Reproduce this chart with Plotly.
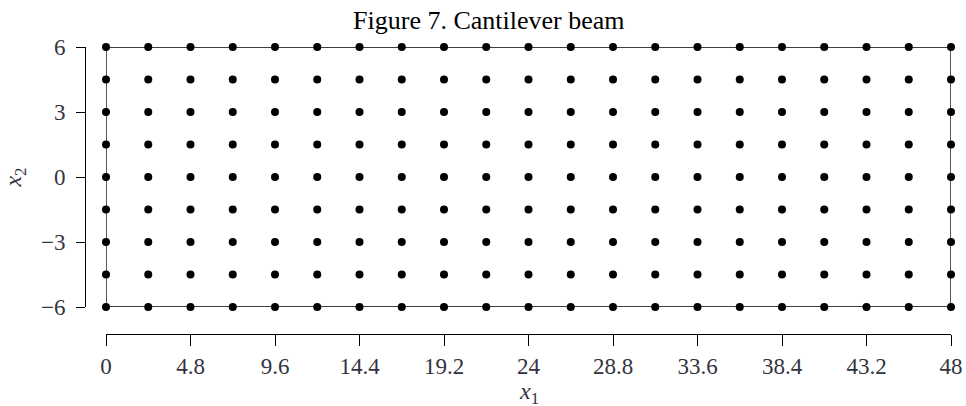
import numpy as np
import plotly.graph_objects as go

# Data: grid nodes of the cantilever beam
x_nodes = [0, 2.4, 4.8, 7.2, 9.6, 12, 14.4, 16.8, 19.2, 21.6, 24, 26.4, 28.8,
           31.2, 33.6, 36, 38.4, 40.8, 43.2, 45.6, 48]
y_nodes = [-6, -4.5, -3, -1.5, 0, 1.5, 3, 4.5, 6]
x_ticks = [0, 4.8, 9.6, 14.4, 19.2, 24, 28.8, 33.6, 38.4, 43.2, 48]
x_ticklabels = ["0", "4.8", "9.6", "14.4", "19.2", "24", "28.8", "33.6", "38.4", "43.2", "48"]
y_ticks = [-6, -3, 0, 3, 6]

X, Y = np.meshgrid(x_nodes, y_nodes)

W, H = 966, 406
ml, mr, mt, mb = 85, 15, 47, 72
pw = W - ml - mr
ph = H - mt - mb
x_dom0 = 21 / pw

fig = go.Figure()
# outline of the beam
fig.add_shape(type="rect", xref="x", yref="y",
              x0=min(x_nodes), x1=max(x_nodes), y0=min(y_nodes), y1=max(y_nodes),
              line=dict(color="black", width=1.3), layer="below")
fig.add_trace(go.Scatter(x=X.ravel(), y=Y.ravel(), mode="markers",
                         marker=dict(color="black", size=8),
                         cliponaxis=False, showlegend=False))

label_color = "#333340"
tick_font = dict(family="Liberation Serif", size=23, color=label_color)
fig.add_annotation(text="<i>x</i><sub>1</sub>", xref="paper", yref="paper",
                   x=(x_dom0 + 1) / 2, y=-(393 - 334) / ph,
                   xanchor="center", yanchor="middle", showarrow=False,
                   font=dict(family="Liberation Serif", size=24, color=label_color))

fig.update_layout(
    width=W, height=H,
    margin=dict(l=ml, r=mr, t=mt, b=mb, autoexpand=False),
    paper_bgcolor="white", plot_bgcolor="white",
    title=dict(text="Figure 7. Cantilever beam", x=0.506, xref="container",
               y=0.95, yref="container", xanchor="center", yanchor="middle",
               font=dict(family="Liberation Serif", size=26, color="black")),
    xaxis=dict(range=[0, 48], domain=[x_dom0, 1], anchor="free", position=0,
               automargin=False,
               tickvals=x_ticks, ticktext=x_ticklabels,
               showgrid=False, zeroline=False, showline=True, linecolor="black",
               linewidth=1, ticks="outside", ticklen=11, tickcolor="black",
               tickfont=tick_font, ticklabelstandoff=0),
    yaxis=dict(range=[-6, 6], domain=[27 / ph, 1], anchor="free", position=0,
               automargin=False,
               tickvals=y_ticks,
               showgrid=False, zeroline=False, showline=True, linecolor="black",
               linewidth=1, ticks="outside", ticklen=9, tickcolor="black",
               tickfont=tick_font, ticklabelstandoff=6,
               title=dict(text="<i>x</i><sub>2</sub>", standoff=12,
                          font=dict(family="Liberation Serif", size=24, color=label_color))),
)

fig.write_html("out.html")
